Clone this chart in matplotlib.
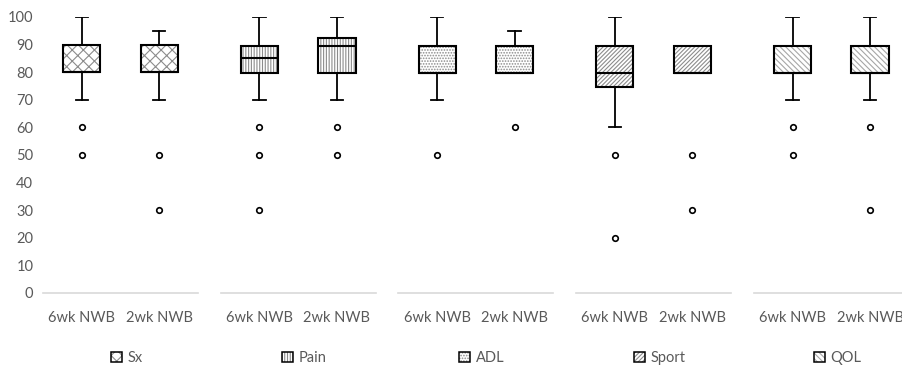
import numpy as np
import matplotlib.pyplot as plt
from matplotlib.patches import Patch, PathPatch
from matplotlib.legend_handler import HandlerTuple

plt.rcParams['font.family'] = ['Lato', 'DejaVu Sans']
plt.rcParams['hatch.linewidth'] = 0.8

groups = ['6wk NWB', '2wk NWB']
measures = ['Sx', 'Pain', 'ADL', 'Sport', 'QOL']
hatches = ['xxx', '||||||', '......', '////////', '\\\\\\\\\\\\']

# one entry per measure: [6wk NWB, 2wk NWB]
q1 = [[80, 80], [79.7, 79.7], [79.7, 79.7], [74.5, 79.7], [79.7, 79.7]]
med = [[80, 80], [85, 89.5], [79.7, 79.7], [79.8, 79.7], [79.7, 79.7]]
q3 = [[90, 90], [89.5, 92.5], [89.5, 89.5], [89.5, 89.5], [89.5, 89.5]]
whislo = [[70, 70], [70, 70], [70, 79.7], [60, 79.7], [70, 70]]
whishi = [[100, 95], [100, 100], [100, 95], [100, 89.5], [100, 100]]
fliers = [[[60, 50], [50, 30]],
          [[60, 50, 30], [60, 50]],
          [[50], [60]],
          [[50, 20], [50, 30]],
          [[60, 50], [60, 30]]]

W, H = 903, 376
fig = plt.figure(figsize=(W / 100, H / 100), dpi=100)
txt = '#595959'
hcols = ['#8c8c8c', '#8c8c8c', '#8c8c8c', '#8c8c8c', '#a6a6a6']

for i, m in enumerate(measures):
    left = 43 + i * 177.7
    ax = fig.add_axes([left / W, 83 / H, 155 / W, 276 / H])
    stats = []
    for j, g in enumerate(groups):
        stats.append(dict(label=g, q1=q1[i][j], med=med[i][j], q3=q3[i][j],
                          whislo=whislo[i][j], whishi=whishi[i][j],
                          fliers=fliers[i][j]))
    bp = ax.bxp(stats, positions=[1, 2], widths=0.48, capwidths=0.16,
                patch_artist=True,
                boxprops=dict(facecolor='none', edgecolor='black', linewidth=1.5),
                medianprops=dict(color='black', linewidth=1.5),
                whiskerprops=dict(color='black', linewidth=1.3),
                capprops=dict(color='black', linewidth=1.3),
                flierprops=dict(marker='o', markersize=4, markerfacecolor='white',
                                markeredgecolor='black', markeredgewidth=1.2))
    for box in bp['boxes']:
        box.set_zorder(3)
        ax.add_patch(PathPatch(box.get_path(), facecolor='white', edgecolor=hcols[i],
                               linewidth=0, hatch=hatches[i], zorder=1.5))
    for med_line in bp['medians']:
        med_line.set_zorder(3)

    ax.set_xlim(0.5, 2.5)
    ax.set_ylim(0, 100)
    ax.set_yticks(range(0, 101, 10))
    for s in ['top', 'right', 'left']:
        ax.spines[s].set_visible(False)
    ax.spines['bottom'].set_color('#d9d9d9')
    ax.spines['bottom'].set_linewidth(1.2)
    ax.tick_params(length=0, colors=txt, labelsize=10.5)
    ax.tick_params(axis='x', pad=13)
    ax.tick_params(axis='y', pad=7)
    if i > 0:
        ax.tick_params(labelleft=False)

    h = (Patch(facecolor='white', edgecolor=hcols[i], linewidth=0, hatch=hatches[i]),
         Patch(facecolor='none', edgecolor='black', linewidth=1.1))
    ax.legend([h], [m], handler_map={tuple: HandlerTuple(ndivide=1)},
              loc='center', bbox_to_anchor=(0.54, (18 - 83) / 276),
              frameon=False, fontsize=10.5, labelcolor=txt,
              handlelength=0.75, handleheight=0.75, handletextpad=0.4)

fig.savefig('out.png', dpi=100)
